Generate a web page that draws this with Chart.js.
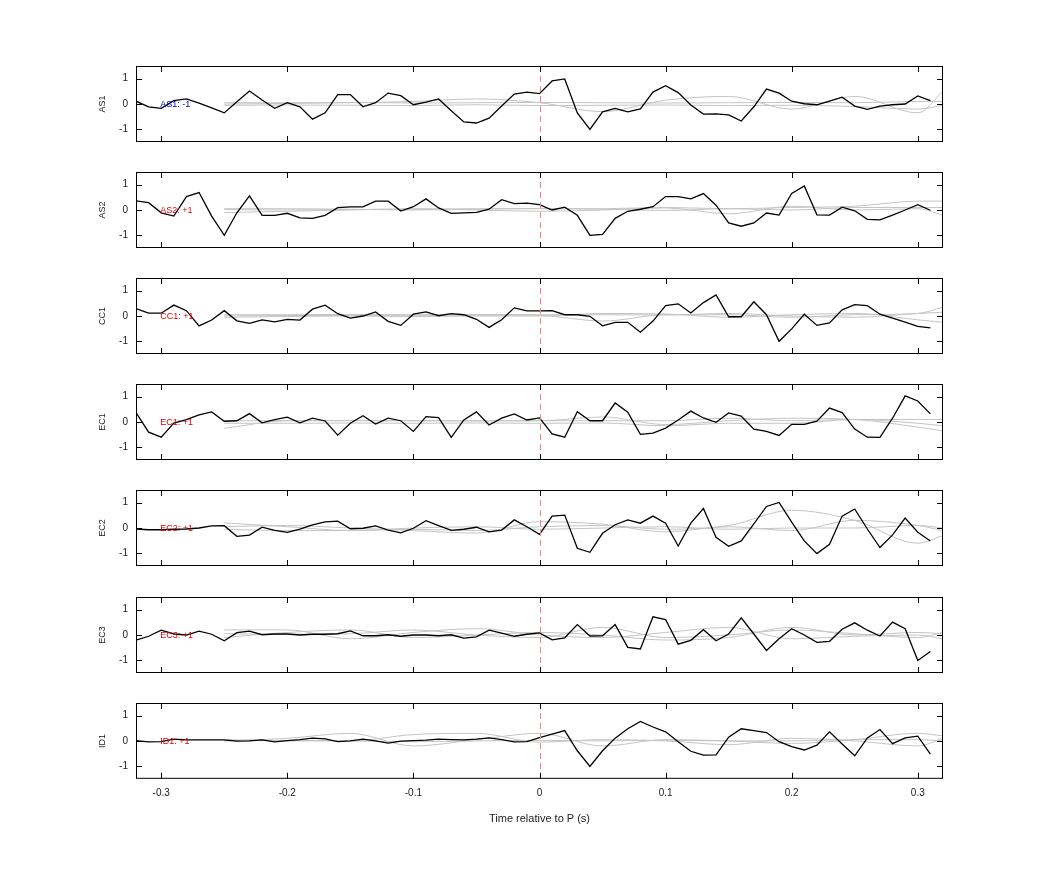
<!DOCTYPE html>
<html><head><meta charset="utf-8">
<script src="https://cdn.jsdelivr.net/npm/chart.js@4"></script>
<style>body{margin:0;background:#fff;width:1042px;height:875px;position:relative;overflow:hidden}
.p{position:absolute;left:0;width:1042px}</style></head><body>
<script>
const channels = ["AS1","AS2","CC1","EC1","EC2","EC3","ID1"];
const signs = ["-1","+1","+1","+1","+1","+1","+1"];
const xTicks = [-0.3,-0.2,-0.1,0,0.1,0.2,0.3];
const yTicks = [-1,0,1];
const times = []; for (let k=0;k<64;k++) times.push(Math.round((-0.32+0.01*k)*100)/100);
const greyTimes = [-0.25,-0.2,-0.15,-0.1,-0.05,0,0.05,0.1,0.15,0.2,0.25,0.3,0.32];
const AS1 = [0.11,-0.11,-0.17,0.13,0.2,0.03,-0.15,-0.35,0.09,0.51,0.16,-0.17,0.05,-0.11,-0.6,-0.35,0.37,0.37,-0.11,0.05,0.43,0.33,-0.03,0.07,0.2,-0.27,-0.71,-0.75,-0.56,-0.08,0.39,0.47,0.41,0.91,0.99,-0.35,-1.0,-0.31,-0.17,-0.31,-0.19,0.47,0.72,0.45,-0.04,-0.4,-0.39,-0.43,-0.67,-0.11,0.59,0.43,0.11,0.01,-0.03,0.11,0.27,-0.08,-0.21,-0.08,-0.03,0,0.32,0.13];
const AS2 = [0.36,0.29,-0.11,-0.24,0.53,0.69,-0.24,-1.0,-0.11,0.56,-0.21,-0.21,-0.13,-0.31,-0.33,-0.21,0.09,0.12,0.12,0.35,0.35,-0.04,0.13,0.44,0.08,-0.13,-0.11,-0.09,0.03,0.41,0.25,0.27,0.21,0,0.11,-0.21,-1.0,-0.96,-0.33,-0.05,0.03,0.13,0.53,0.53,0.44,0.65,0.19,-0.51,-0.64,-0.51,-0.12,-0.2,0.65,0.95,-0.19,-0.2,0.11,-0.03,-0.37,-0.39,-0.2,0,0.21,-0.01];
const CC1 = [0.29,0.11,0.11,0.43,0.21,-0.39,-0.16,0.21,-0.19,-0.29,-0.15,-0.23,-0.13,-0.16,0.27,0.43,0.09,-0.08,0,0.16,-0.21,-0.37,0.07,0.16,0.01,0.09,0.05,-0.13,-0.45,-0.15,0.32,0.2,0.2,0.21,0.05,0.05,-0.01,-0.39,-0.25,-0.25,-0.64,-0.2,0.41,0.48,0.12,0.53,0.83,-0.03,-0.03,0.56,0.05,-1.0,-0.51,0.07,-0.37,-0.27,0.24,0.45,0.41,0.07,-0.08,-0.24,-0.41,-0.47];
const EC1 = [0.37,-0.4,-0.6,-0.04,0.09,0.28,0.4,0.03,0.05,0.33,-0.03,0.09,0.19,-0.03,0.15,0.04,-0.52,-0.05,0.25,-0.08,0.15,0.05,-0.37,0.21,0.17,-0.61,0.08,0.4,-0.12,0.15,0.32,0.08,0.16,-0.47,-0.6,0.41,0.05,0.05,0.75,0.39,-0.49,-0.44,-0.24,0.08,0.43,0.16,-0.01,0.36,0.23,-0.28,-0.37,-0.53,-0.09,-0.09,0.03,0.55,0.37,-0.28,-0.6,-0.61,0.15,1.03,0.83,0.32];
const EC2 = [-0.04,-0.07,-0.07,-0.05,-0.04,0,0.08,0.09,-0.33,-0.28,0.03,-0.09,-0.17,-0.04,0.12,0.24,0.27,-0.03,-0.01,0.08,-0.08,-0.19,-0.01,0.29,0.09,-0.09,-0.05,0.03,-0.15,-0.08,0.32,0.05,-0.25,0.47,0.51,-0.8,-0.96,-0.21,0.13,0.32,0.19,0.47,0.19,-0.71,0.19,0.77,-0.37,-0.72,-0.51,0.16,0.85,1.01,0.23,-0.51,-1.01,-0.64,0.47,0.75,-0.04,-0.77,-0.27,0.39,-0.17,-0.51];
const EC3 = [-0.2,-0.05,0.19,0.04,0,0.15,0.03,-0.23,0.09,0.15,0.01,0.04,0.04,0,0.03,0.03,0.05,0.16,-0.03,-0.03,0.01,-0.05,0,0,-0.03,0.01,-0.12,-0.07,0.19,0.07,-0.05,0.03,0.08,-0.19,-0.11,0.41,-0.04,-0.03,0.41,-0.49,-0.55,0.72,0.61,-0.36,-0.21,0.21,-0.23,0.04,0.68,0.04,-0.61,-0.15,0.25,0,-0.29,-0.25,0.23,0.48,0.19,-0.04,0.51,0.25,-1.01,-0.65];
const ID1 = [0.01,-0.04,-0.03,0.07,0.04,0.04,0.04,0.04,-0.01,0,0.04,-0.04,0.01,0.05,0.11,0.08,-0.03,0,0.07,0,-0.09,-0.01,0.01,0.03,0.07,0.05,0.04,0.07,0.12,0.05,-0.04,-0.03,0.13,0.27,0.41,-0.39,-1.01,-0.39,0.11,0.48,0.77,0.55,0.36,-0.03,-0.41,-0.56,-0.55,0.15,0.48,0.41,0.33,-0.03,-0.23,-0.36,-0.17,0.36,-0.12,-0.59,0.12,0.45,-0.11,0.12,0.19,-0.52];
const greyAS1 = [[0,0.02,0.05,0.1,0.2,0.05,-0.3,0.15,0.3,-0.2,0.3,-0.35,0.5],[0.05,0.05,0.06,0.04,0.05,0.06,0.05,0.04,0.05,0.06,0.05,0.1,0.1],[-0.05,-0.04,-0.05,-0.06,-0.03,-0.06,-0.05,-0.04,-0.06,-0.05,-0.1,-0.2,-0.05]];
const greyAS2 = [[0.02,0,0.02,0.03,0.05,0.05,0.05,0.1,0.05,0.1,0.15,0.35,0.35],[-0.1,-0.05,0,0.05,0,-0.05,0,0.08,-0.15,0.15,0,0.05,-0.2],[0.05,0.05,0.03,0.0,0.03,0.06,0.03,-0.02,0.05,0,0.1,0.1,0.1]];
const greyCC1 = [[0,0.02,0.02,0.03,0.03,0.02,-0.2,0.05,0.05,-0.05,0.05,0.1,0.35],[-0.05,-0.02,0,-0.02,0,0,0.1,0.08,-0.05,0.05,0.1,-0.15,-0.25],[0.05,0.05,0.06,0.05,0.06,0.05,0.05,0.04,0.1,0,-0.05,0.1,0.15]];
const greyEC1 = [[-0.25,0.05,0.05,0.05,0.05,0.05,0.2,-0.1,0.05,0.15,0.1,-0.2,-0.35],[0.05,0.05,0.06,0.05,0.04,0.05,0.05,0.05,0.15,0.05,0.1,0.1,0.1],[-0.05,-0.05,-0.04,-0.05,-0.04,-0.05,-0.04,-0.15,-0.05,-0.05,0.1,-0.05,-0.15]];
const greyEC2 = [[0.2,0.05,-0.1,-0.05,-0.1,0.05,0.1,-0.05,0.1,0.7,0.3,-0.6,-0.3],[0.05,0.1,0,-0.1,-0.2,0.25,0.15,-0.15,0.05,-0.1,0.3,0.1,-0.1],[-0.05,-0.1,-0.1,0,0.05,-0.05,0,0.05,-0.05,0,0,0.1,0]];
const greyEC3 = [[0.2,0.2,-0.15,0.1,0.25,0,-0.1,0.1,0.3,-0.15,-0.05,0,-0.15],[0.05,0.03,0.05,0.2,0,-0.1,0.3,-0.1,0,0.2,0.05,-0.1,0.1],[-0.1,0.1,0.2,-0.1,0,0.1,0,-0.2,-0.1,0.3,0,0.1,0.05]];
const greyID1 = [[0,0.1,0.3,-0.2,0.05,0.3,-0.2,0.05,0,-0.1,0.05,0.3,0.2],[0.05,0,0,0.25,0.3,-0.05,0.05,0,-0.15,0.1,0,-0.2,0.1],[0,0.02,0,-0.03,0,0.02,0,0.02,0,0,0.05,0.05,0]];
const black = [AS1,AS2,CC1,EC1,EC2,EC3,ID1];
const greys = [greyAS1,greyAS2,greyCC1,greyEC1,greyEC2,greyEC3,greyID1];

const FONT = "'Liberation Sans', Arial, sans-serif";
const tops = [66,172,278,384,490,597,703];
const PH = 76;

const frame = {
  id:'frame',
  afterDraw(c){
    const o=c.options.plugins.frame, a=c.chartArea, ctx=c.ctx, xs=c.scales.x, ys=c.scales.y;
    ctx.save();
    ctx.strokeStyle='#f08080'; ctx.lineWidth=1; ctx.setLineDash([6,4]);
    const x0=Math.round(xs.getPixelForValue(0))+0.5;
    ctx.beginPath(); ctx.moveTo(x0,a.top); ctx.lineTo(x0,a.bottom); ctx.stroke();
    ctx.setLineDash([]);
    ctx.strokeStyle='#000';
    ctx.strokeRect(a.left+0.5,a.top+0.5,a.right-a.left-1,a.bottom-a.top-1);
    ctx.beginPath();
    xTicks.forEach(v=>{const p=Math.round(xs.getPixelForValue(v))+0.5;
      ctx.moveTo(p,a.top);ctx.lineTo(p,a.top+6);ctx.moveTo(p,a.bottom);ctx.lineTo(p,a.bottom-6);});
    yTicks.forEach(v=>{const p=Math.round(ys.getPixelForValue(v))+0.5;
      ctx.moveTo(a.left,p);ctx.lineTo(a.left+6,p);ctx.moveTo(a.right,p);ctx.lineTo(a.right-6,p);});
    ctx.stroke();
    ctx.font='9px '+FONT; ctx.fillStyle=o.labelColor; ctx.textAlign='left'; ctx.textBaseline='middle';
    ctx.fillText(o.label, xs.getPixelForValue(-0.3)-1, ys.getPixelForValue(0)+1);
    ctx.fillStyle='#222'; ctx.translate(103,(a.top+a.bottom)/2); ctx.rotate(-Math.PI/2);
    ctx.textAlign='center'; ctx.fillText(o.name,0,0);
    ctx.restore();
  }
};

channels.forEach((ch,i)=>{
  const last = i===channels.length-1;
  const d=document.createElement('div'); d.className='p';
  d.style.top=tops[i]+'px'; d.style.height=(last?PH+55:PH)+'px';
  const cv=document.createElement('canvas'); d.appendChild(cv); document.body.appendChild(d);
  const ds=[{data:times.map((t,k)=>({x:t,y:black[i][k]})),borderColor:'#000',borderWidth:1.3,pointRadius:0,tension:0,order:0}];
  greys[i].forEach(g=>ds.push({data:greyTimes.map((t,k)=>({x:t,y:g[k]})),borderColor:'#c4c4c4',borderWidth:1,pointRadius:0,tension:0.4,cubicInterpolationMode:'monotone',order:1}));
  new Chart(cv,{type:'line',data:{datasets:ds},plugins:[frame],
    options:{responsive:true,maintainAspectRatio:false,animation:false,
      layout:{padding:{left:0,right:99,top:0,bottom:last?4:0}},
      plugins:{legend:{display:false},tooltip:{enabled:false},
        frame:{label:ch+': '+signs[i],labelColor:i===0?'#0000cc':'#dd0000',name:ch}},
      scales:{
        x:{type:'linear',min:-0.32,max:0.32,display:last,
          afterBuildTicks:s=>{s.ticks=xTicks.map(v=>({value:v}));},
          afterFit:s=>{s.paddingLeft=0;s.paddingRight=0;},
          grid:{display:false,drawTicks:false},border:{display:false},
          ticks:{font:{size:10,family:FONT},color:'#222',padding:8,maxRotation:0,callback:v=>String(v)},
          title:{display:true,text:'Time relative to P (s)',font:{size:11,family:FONT},color:'#222',padding:{top:6}}},
        y:{min:-1.5,max:1.5,
          afterBuildTicks:s=>{s.ticks=yTicks.map(v=>({value:v}));},
          afterFit:s=>{s.width=136;s.paddingTop=0;s.paddingBottom=0;},
          grid:{display:false,drawTicks:false},border:{display:false},
          ticks:{font:{size:10,family:FONT},color:'#222',padding:8}}
      }}});
});
</script></body></html>
